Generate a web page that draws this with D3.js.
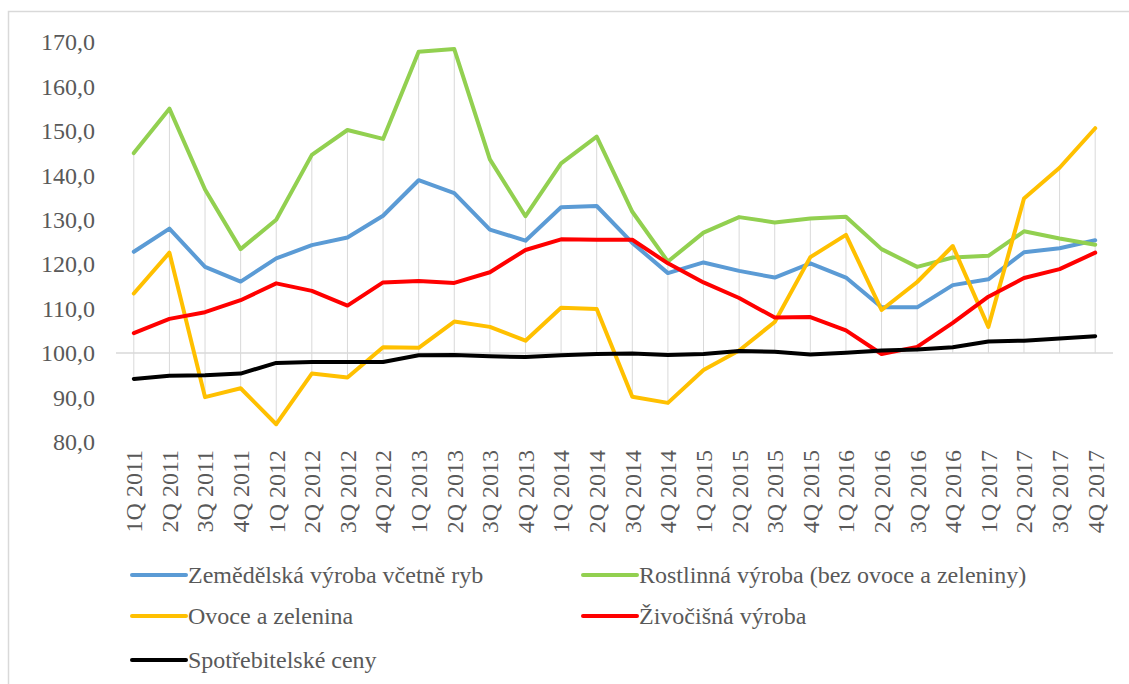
<!DOCTYPE html>
<html>
<head>
<meta charset="utf-8">
<script src="https://cdn.jsdelivr.net/npm/d3@7"></script>
<style>
  html, body { margin: 0; padding: 0; background: #fff; }
  svg { display: block; }
  svg text { font-family: 'Liberation Serif', Tinos, 'Times New Roman', Times, 'Nimbus Roman', 'Nimbus Roman No9 L', FreeSerif, 'DejaVu Serif', 'Noto Serif', serif; }
</style>
</head>
<body>
<div id="chart"></div>
<script>
// == DATA ==
const quarters = [
  '1Q 2011', '2Q 2011', '3Q 2011', '4Q 2011',
  '1Q 2012', '2Q 2012', '3Q 2012', '4Q 2012',
  '1Q 2013', '2Q 2013', '3Q 2013', '4Q 2013',
  '1Q 2014', '2Q 2014', '3Q 2014', '4Q 2014',
  '1Q 2015', '2Q 2015', '3Q 2015', '4Q 2015',
  '1Q 2016', '2Q 2016', '3Q 2016', '4Q 2016',
  '1Q 2017', '2Q 2017', '3Q 2017', '4Q 2017'
];
const zemedelska = [122.8, 128.0, 119.4, 116.1, 121.3, 124.3, 126.0, 130.9, 138.9, 136.0, 127.8, 125.3,
  132.8, 133.1, 124.8, 118.0, 120.4, 118.5, 117.0, 120.2, 117.0, 110.3, 110.3, 115.3, 116.6, 122.7, 123.6, 125.4];
const rostlinna = [145.0, 155.0, 136.8, 123.4, 130.0, 144.6, 150.2, 148.2, 167.8, 168.4, 143.6, 130.8,
  142.7, 148.7, 131.8, 120.6, 127.1, 130.6, 129.4, 130.3, 130.7, 123.4, 119.4, 121.5, 121.9, 127.4, 125.8, 124.4];
const ovoce = [113.4, 122.6, 90.1, 92.1, 84.0, 95.4, 94.5, 101.3, 101.2, 107.1, 105.9, 102.8,
  110.2, 109.9, 90.2, 88.8, 96.2, 100.6, 107.0, 121.6, 126.6, 109.7, 116.0, 124.1, 105.9, 134.8, 141.7, 150.6];
const zivocisna = [104.5, 107.7, 109.2, 111.9, 115.7, 114.0, 110.7, 115.9, 116.2, 115.8, 118.2, 123.2,
  125.6, 125.5, 125.5, 120.2, 115.9, 112.4, 108.0, 108.1, 105.1, 99.8, 101.4, 106.8, 112.7, 116.9, 118.9, 122.6];
const spotrebitelske = [94.2, 94.9, 95.0, 95.4, 97.8, 98.0, 98.0, 98.0, 99.5, 99.6, 99.3, 99.1,
  99.5, 99.8, 99.9, 99.6, 99.8, 100.5, 100.3, 99.7, 100.1, 100.6, 100.8, 101.3, 102.6, 102.8, 103.3, 103.8];

const yTicks = [80, 90, 100, 110, 120, 130, 140, 150, 160, 170];

const series = [
  { name: 'Zemědělská výroba včetně ryb', values: zemedelska, color: '#5B9BD5' },
  { name: 'Rostlinná výroba (bez ovoce a zeleniny)', values: rostlinna, color: '#92D050' },
  { name: 'Ovoce a zelenina', values: ovoce, color: '#FFC000' },
  { name: 'Živočišná výroba', values: zivocisna, color: '#FF0000' },
  { name: 'Spotřebitelské ceny', values: spotrebitelske, color: '#000000' }
];

// == CONFIG ==
const W = 1129, H = 684;
const TEXT_COLOR = '#595959';
const GRID_COLOR = '#d9d9d9';
const PLOT = { left: 116, right: 1113, top: 42, bottom: 442 };

const svg = d3.select('#chart').append('svg')
  .attr('width', W)
  .attr('height', H);

// chart border
svg.append('rect')
  .attr('x', 8.5).attr('y', 11.5)
  .attr('width', W + 10).attr('height', H + 10)
  .attr('fill', 'none')
  .attr('stroke', GRID_COLOR)
  .attr('stroke-width', 1.5);

const x = d3.scaleBand().domain(quarters).range([PLOT.left, PLOT.right]).padding(0);
const y = d3.scaleLinear().domain([80, 170]).range([PLOT.bottom, PLOT.top]);
const cx = q => x(q) + x.bandwidth() / 2;

// y tick labels
const yAxis = d3.axisLeft(y)
  .tickValues(yTicks)
  .tickSize(0)
  .tickPadding(0)
  .tickFormat(d => d3.format('.1f')(d).replace('.', ','));
const gy = svg.append('g')
  .attr('transform', 'translate(95,0)')
  .call(yAxis)
  .attr('font-family', null);
gy.select('.domain').remove();
gy.selectAll('text')
  .attr('font-size', '24px')
  .attr('fill', TEXT_COLOR);

// drop lines from each point to the 100 axis
const gDrop = svg.append('g');
quarters.forEach((q, i) => {
  const vals = series.map(s => s.values[i]).concat([100]);
  gDrop.append('line')
    .attr('x1', cx(q)).attr('x2', cx(q))
    .attr('y1', y(d3.max(vals))).attr('y2', y(d3.min(vals)))
    .attr('stroke', GRID_COLOR)
    .attr('stroke-width', 1);
});

// category axis crossing at 100
svg.append('line')
  .attr('x1', PLOT.left).attr('x2', PLOT.right)
  .attr('y1', y(100)).attr('y2', y(100))
  .attr('stroke', GRID_COLOR)
  .attr('stroke-width', 1.5);

// x labels (rotated), placed at the bottom
const gx = svg.append('g')
  .attr('transform', `translate(0,${PLOT.bottom})`)
  .call(d3.axisBottom(x).tickSize(0).tickPadding(0))
  .attr('font-family', null);
gx.select('.domain').remove();
gx.selectAll('text')
  .attr('font-size', '24px')
  .attr('fill', TEXT_COLOR)
  .attr('transform', 'rotate(-90)')
  .attr('text-anchor', 'end')
  .attr('x', -8)
  .attr('y', 0)
  .attr('dy', '0.35em');

// lines
const line = d3.line()
  .x((d, i) => cx(quarters[i]))
  .y(d => y(d));

series.forEach(s => {
  svg.append('path')
    .datum(s.values)
    .attr('d', line)
    .attr('fill', 'none')
    .attr('stroke', s.color)
    .attr('stroke-width', 4)
    .attr('stroke-linejoin', 'round')
    .attr('stroke-linecap', 'round');
});

// legend
const legendPos = [
  { x: 132, y: 575 }, { x: 583, y: 575 },
  { x: 132, y: 616 }, { x: 583, y: 616 },
  { x: 132, y: 660 }
];
series.forEach((s, i) => {
  const p = legendPos[i];
  const g = svg.append('g').attr('transform', `translate(${p.x},${p.y})`);
  g.append('line')
    .attr('x1', 0).attr('x2', 54)
    .attr('y1', 0).attr('y2', 0)
    .attr('stroke', s.color)
    .attr('stroke-width', 4)
    .attr('stroke-linecap', 'round');
  g.append('text')
    .attr('x', 56)
    .attr('y', 0)
    .attr('dy', '0.33em')
    .attr('font-size', '24px')
    .attr('fill', TEXT_COLOR)
    .text(s.name);
});
</script>
</body>
</html>
